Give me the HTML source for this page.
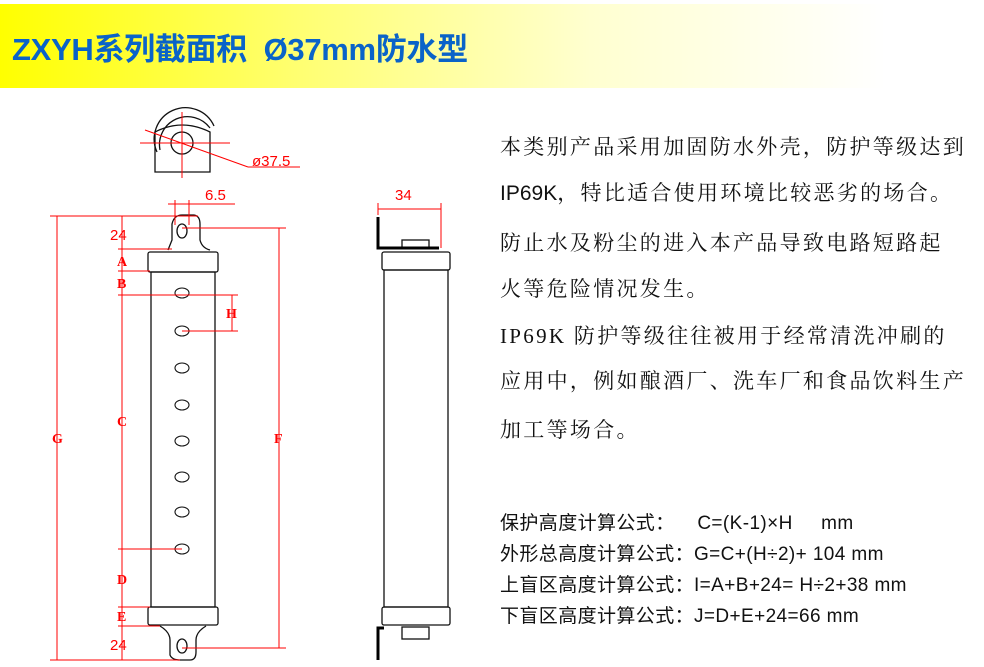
<!DOCTYPE html>
<html><head><meta charset="utf-8"><style>
body{margin:0;width:984px;height:667px;background:#fff;overflow:hidden;position:relative;font-family:"Liberation Sans","Noto Sans CJK SC",sans-serif}
.band{position:absolute;left:0;top:4px;width:984px;height:84px;background:linear-gradient(90deg,#ffff00 0%,#ffff70 30%,#ffffd0 60%,#fff 90%)}
.title{position:absolute;left:12px;top:24px;font-size:31px;font-weight:bold;color:#0a63c8;white-space:nowrap;letter-spacing:-0.3px}
.p{position:absolute;left:500px;font-size:21px;letter-spacing:2.3px;color:#111;white-space:nowrap;font-family:"Liberation Serif","Noto Serif CJK SC",serif}
.f{position:absolute;left:500px;font-size:19px;letter-spacing:0.4px;color:#111;white-space:nowrap}
</style></head><body>
<div class="band"></div>
<div class="title">ZXYH系列截面积&nbsp; Ø37mm防水型</div>
<div class="p" style="top:131px">本类别产品采用加固防水外壳，防护等级达到</div>
<div class="p" style="top:177px"><span style="font-family:'Liberation Sans';letter-spacing:0">IP69K</span>，特比适合使用环境比较恶劣的场合。</div>
<div class="p" style="top:227px">防止水及粉尘的进入本产品导致电路短路起</div>
<div class="p" style="top:273px">火等危险情况发生。</div>
<div class="p" style="top:320px">IP69K 防护等级往往被用于经常清洗冲刷的</div>
<div class="p" style="top:365px">应用中，例如酿酒厂、洗车厂和食品饮料生产</div>
<div class="p" style="top:414px">加工等场合。</div>
<div class="f" style="top:508px">保护高度计算公式：&nbsp;&nbsp;&nbsp; C=(K-1)×H&nbsp;&nbsp;&nbsp;&nbsp; mm</div>
<div class="f" style="top:539px">外形总高度计算公式：G=C+(H÷2)+ 104 mm</div>
<div class="f" style="top:570px">上盲区高度计算公式：I=A+B+24= H÷2+38 mm</div>
<div class="f" style="top:601px">下盲区高度计算公式：J=D+E+24=66 mm</div>
<svg width="984" height="667" style="position:absolute;left:0;top:0" fill="none">
<g stroke="#111" stroke-width="1.3">
<path d="M160 150 A28 28 0 0 1 210 128"/><path d="M157 152 A31 31 0 0 1 214 126"/>
<path d="M155 172 L155 132 Q182 118 210 132 L210 172 Z"/>
<circle cx="182" cy="143" r="11"/>
<path d="M168 250 Q170 245 172 240 L172 224 Q174 215 182 215 L194 215 Q200 216 200 224 L200 240 Q202 248 210 250"/>
<ellipse cx="182" cy="231" rx="5" ry="7"/>
<rect x="148" y="252" width="70" height="20" rx="2"/>
<rect x="151" y="272" width="64" height="335"/>
<rect x="148" y="607" width="70" height="18" rx="2"/>
<path d="M160 626 Q170 632 170 640 L170 655 Q172 660 180 660 L190 660 Q196 660 196 652 L196 640 Q196 632 206 626"/>
<ellipse cx="182" cy="646" rx="5" ry="7"/>
<g stroke-width="1.1">
<ellipse cx="182" cy="293" rx="7" ry="5"/><ellipse cx="182" cy="331" rx="7" ry="5"/>
<ellipse cx="182" cy="368" rx="7" ry="5"/><ellipse cx="182" cy="405" rx="7" ry="5"/>
<ellipse cx="182" cy="441" rx="7" ry="5"/><ellipse cx="182" cy="477" rx="7" ry="5"/>
<ellipse cx="182" cy="512" rx="7" ry="5"/><ellipse cx="182" cy="549" rx="7" ry="5"/>
</g>
<rect x="382" y="252" width="68" height="18" rx="2"/>
<rect x="384" y="270" width="64" height="337"/>
<rect x="382" y="607" width="68" height="18" rx="2"/>
<rect x="402" y="240" width="27" height="8"/>
<rect x="402" y="627" width="27" height="12"/>
</g>
<path d="M378 217 L378 248 L439 248" stroke="#000" stroke-width="3"/>
<path d="M378 660 L378 628 L384 628" stroke="#000" stroke-width="3"/>
<g stroke="#f00" stroke-width="1">
<line x1="182" y1="112" x2="182" y2="178"/><line x1="140" y1="143" x2="230" y2="143"/>
<line x1="145" y1="130" x2="248" y2="167"/><line x1="248" y1="167" x2="300" y2="167"/>
<line x1="175" y1="200" x2="175" y2="225"/><line x1="189" y1="200" x2="189" y2="225"/>
<line x1="168" y1="204" x2="235" y2="204"/>
<line x1="50" y1="216" x2="198" y2="216"/><line x1="57" y1="216" x2="57" y2="660"/>
<line x1="50" y1="660" x2="180" y2="660"/>
<line x1="122" y1="216" x2="122" y2="660"/>
<line x1="118" y1="249" x2="172" y2="249"/><line x1="118" y1="271" x2="150" y2="271"/>
<line x1="118" y1="295" x2="238" y2="295"/><line x1="182" y1="331" x2="238" y2="331"/>
<line x1="232" y1="295" x2="232" y2="331"/>
<line x1="118" y1="549" x2="182" y2="549"/><line x1="118" y1="607" x2="150" y2="607"/>
<line x1="118" y1="626" x2="160" y2="626"/>
<line x1="182" y1="228" x2="286" y2="228"/><line x1="279" y1="228" x2="279" y2="648"/>
<line x1="182" y1="648" x2="286" y2="648"/>
<line x1="378" y1="203" x2="378" y2="215"/><line x1="441" y1="203" x2="441" y2="248"/>
<line x1="378" y1="209" x2="441" y2="209"/>
</g>
<g fill="#f00" font-family="Liberation Sans,sans-serif" font-size="15">
<text x="252" y="166">ø37.5</text><text x="205" y="200">6.5</text>
<text x="110" y="240">24</text><text x="110" y="650">24</text>
<text x="395" y="200">34</text>
</g>
<g fill="#f00" font-family="Liberation Serif,serif" font-weight="bold" font-size="14">
<text x="117" y="266">A</text><text x="117" y="288">B</text><text x="226" y="318">H</text>
<text x="117" y="426">C</text><text x="52" y="443">G</text><text x="274" y="443">F</text>
<text x="117" y="584">D</text><text x="117" y="621">E</text>
</g>
</svg>
</body></html>
